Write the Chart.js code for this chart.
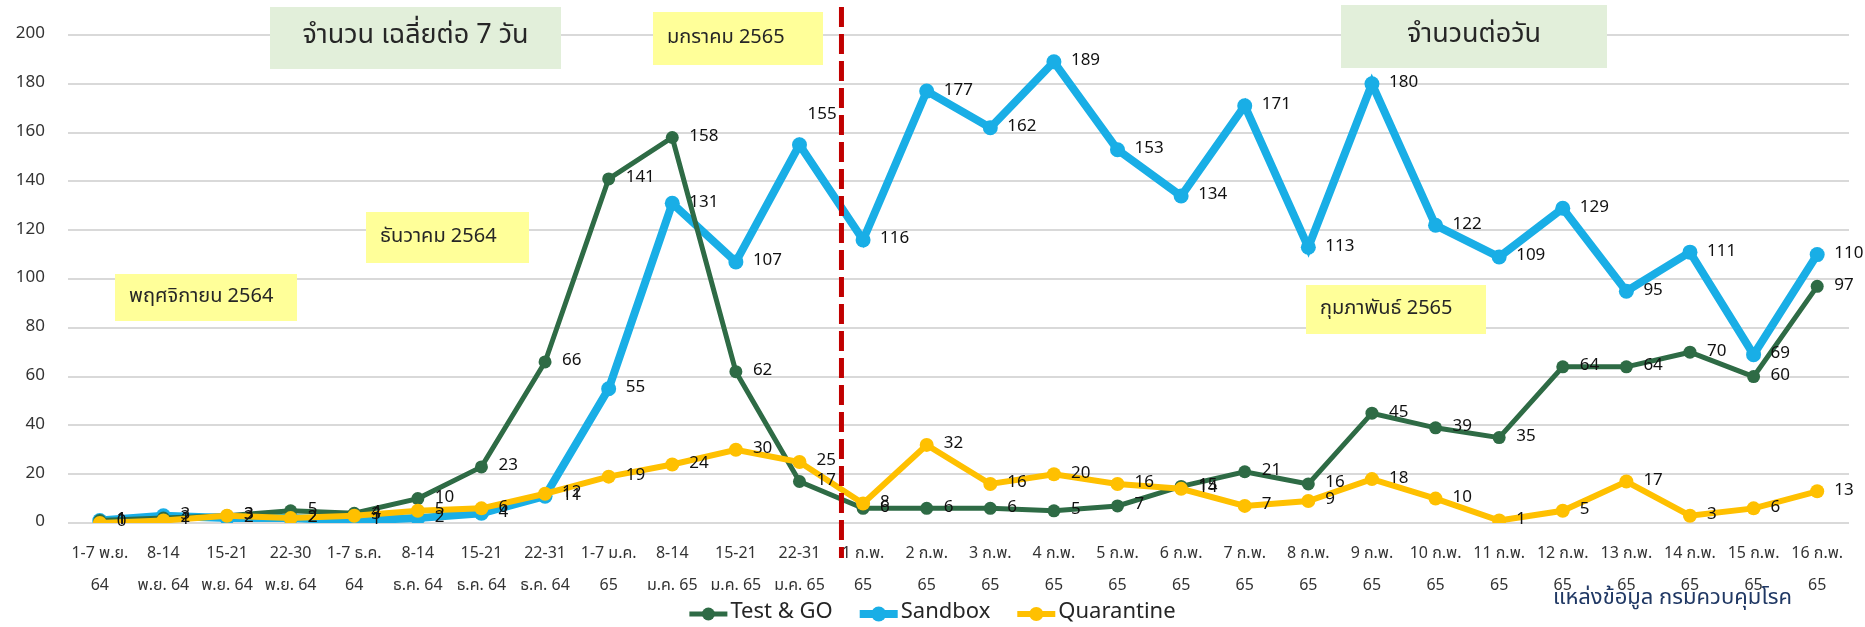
<!DOCTYPE html>
<html lang="th">
<head>
<meta charset="UTF-8">
<title>Test &amp; GO / Sandbox / Quarantine</title>
<script src="https://cdn.jsdelivr.net/npm/chart.js"></script>
<style>
  body { margin: 0; background: #fff; }
  canvas { display: block; }
</style>
</head>
<body>
<canvas id="travelChart" width="1865" height="627"></canvas>
<script>
const FONT = 'Tahoma, "Noto Sans Thai", "Noto Sans", sans-serif';

// x-axis categories (two lines each)
const categories = [
  ['1-7 พ.ย.', '64'], ['8-14', 'พ.ย. 64'], ['15-21', 'พ.ย. 64'], ['22-30', 'พ.ย. 64'],
  ['1-7 ธ.ค.', '64'], ['8-14', 'ธ.ค. 64'], ['15-21', 'ธ.ค. 64'], ['22-31', 'ธ.ค. 64'],
  ['1-7 ม.ค.', '65'], ['8-14', 'ม.ค. 65'], ['15-21', 'ม.ค. 65'], ['22-31', 'ม.ค. 65'],
  ['1 ก.พ.', '65'], ['2 ก.พ.', '65'], ['3 ก.พ.', '65'], ['4 ก.พ.', '65'],
  ['5 ก.พ.', '65'], ['6 ก.พ.', '65'], ['7 ก.พ.', '65'], ['8 ก.พ.', '65'],
  ['9 ก.พ.', '65'], ['10 ก.พ.', '65'], ['11 ก.พ.', '65'], ['12 ก.พ.', '65'],
  ['13 ก.พ.', '65'], ['14 ก.พ.', '65'], ['15 ก.พ.', '65'], ['16 ก.พ.', '65']
];

const testAndGo  = [1, 2, 3, 5, 4, 10, 23, 66, 141, 158, 62, 17, 6, 6, 6, 5, 7, 15, 21, 16, 45, 39, 35, 64, 64, 70, 60, 97];
const sandbox    = [1, 3, 2, 2, 1, 2, 4, 11, 55, 131, 107, 155, 116, 177, 162, 189, 153, 134, 171, 113, 180, 122, 109, 129, 95, 111, 69, 110];
const quarantine = [0, 1, 3, 2, 3, 5, 6, 12, 19, 24, 30, 25, 8, 32, 16, 20, 16, 14, 7, 9, 18, 10, 1, 5, 17, 3, 6, 13];

const yMin = 0, yMax = 200, yStep = 20;

// text boxes on the chart
const boxes = [
  { text: 'จำนวน เฉลี่ยต่อ 7 วัน', x: 270, y: 7, w: 291, h: 62, fill: '#e2efda', size: 27, align: 'center' },
  { text: 'จำนวนต่อวัน', x: 1341, y: 5, w: 266, h: 63, fill: '#e2efda', size: 27, align: 'center' },
  { text: 'มกราคม 2565', x: 653, y: 12, w: 170, h: 53, fill: '#ffff99', size: 20, align: 'left' },
  { text: 'ธันวาคม 2564', x: 366, y: 212, w: 163, h: 51, fill: '#ffff99', size: 20, align: 'left' },
  { text: 'พฤศจิกายน 2564', x: 115, y: 274, w: 182, h: 47, fill: '#ffff99', size: 20, align: 'left' },
  { text: 'กุมภาพันธ์ 2565', x: 1306, y: 285, w: 180, h: 49, fill: '#ffff99', size: 20, align: 'left' }
];

// label placement exceptions: dataset index -> point index -> offset
const labelShift = { 1: { 11: { dx: 8, dy: -29 } } };

const decor = {
  id: 'decor',
  beforeDatasetsDraw(chart) {
    const ctx = chart.ctx;
    ctx.save();
    boxes.forEach(b => {
      ctx.fillStyle = b.fill;
      ctx.fillRect(b.x, b.y, b.w, b.h);
      ctx.fillStyle = '#262626';
      ctx.font = b.size + 'px ' + FONT;
      ctx.textBaseline = 'middle';
      ctx.textAlign = b.align;
      const tx = b.align === 'center' ? b.x + b.w / 2 : b.x + 14;
      ctx.fillText(b.text, tx, b.y + b.h / 2);
    });
    ctx.restore();
  },
  afterDatasetsDraw(chart) {
    const ctx = chart.ctx;
    const xs = chart.scales.x;
    ctx.save();

    // red dashed divider between January and February
    const p11 = xs.getPixelForValue(11), p12 = xs.getPixelForValue(12);
    const px = p11 + (p12 - p11) * 0.66;
    ctx.strokeStyle = '#c00000';
    ctx.lineWidth = 5;
    ctx.setLineDash([20, 7]);
    ctx.beginPath();
    ctx.moveTo(px, 7);
    ctx.lineTo(px, 558);
    ctx.stroke();
    ctx.setLineDash([]);

    // value labels
    ctx.font = '17px ' + FONT;
    ctx.fillStyle = '#111';
    ctx.textAlign = 'left';
    ctx.textBaseline = 'middle';
    chart.data.datasets.forEach((ds, i) => {
      chart.getDatasetMeta(i).data.forEach((pt, j) => {
        const o = (labelShift[i] && labelShift[i][j]) || { dx: 17, dy: 0 };
        ctx.fillText(String(ds.data[j]), pt.x + o.dx, pt.y + o.dy);
      });
    });

    // legend at the bottom
    ctx.font = '22px ' + FONT;
    const symW = 38, gapIn = 3, gapOut = 27, ly = 614;
    const items = chart.data.datasets.map(ds => ({ ds, tw: ctx.measureText(ds.label).width }));
    let total = 0;
    items.forEach((it, k) => { total += symW + gapIn + it.tw + (k < items.length - 1 ? gapOut : 0); });
    let lx = chart.width / 2 - total / 2;
    items.forEach(it => {
      ctx.strokeStyle = it.ds.borderColor;
      ctx.lineWidth = it.ds.borderWidth;
      ctx.beginPath();
      ctx.moveTo(lx, ly);
      ctx.lineTo(lx + symW, ly);
      ctx.stroke();
      ctx.fillStyle = it.ds.borderColor;
      ctx.beginPath();
      ctx.arc(lx + symW / 2, ly, it.ds.pointRadius, 0, Math.PI * 2);
      ctx.fill();
      ctx.fillStyle = '#262626';
      ctx.fillText(it.ds.label, lx + symW + gapIn, ly);
      lx += symW + gapIn + it.tw + gapOut;
    });

    // source note
    ctx.font = '22px ' + FONT;
    ctx.fillStyle = '#203864';
    ctx.textAlign = 'right';
    ctx.textBaseline = 'alphabetic';
    ctx.fillText('แหล่งข้อมูล กรมควบคุมโรค', 1792, 604);

    ctx.restore();
  }
};

const ctx = document.getElementById('travelChart').getContext('2d');
new Chart(ctx, {
  type: 'line',
  data: {
    labels: categories,
    datasets: [
      { label: 'Test & GO', data: testAndGo, borderColor: '#2e6b45', backgroundColor: '#2e6b45',
        borderWidth: 5, pointRadius: 6.5, pointBorderWidth: 0, pointBackgroundColor: '#2e6b45', order: 1 },
      { label: 'Sandbox', data: sandbox, borderColor: '#19aee6', backgroundColor: '#19aee6',
        borderWidth: 8, pointRadius: 7.5, pointBorderWidth: 0, pointBackgroundColor: '#19aee6', order: 2 },
      { label: 'Quarantine', data: quarantine, borderColor: '#ffc000', backgroundColor: '#ffc000',
        borderWidth: 6, pointRadius: 7, pointBorderWidth: 0, pointBackgroundColor: '#ffc000', order: 0 }
    ]
  },
  options: {
    responsive: false,
    animation: false,
    devicePixelRatio: 1,
    layout: { padding: { top: 35, right: 16, bottom: 0, left: 0 } },
    plugins: { legend: { display: false }, tooltip: { enabled: false } },
    scales: {
      x: {
        offset: true,
        grid: { display: false, offset: true },
        border: { display: false },
        ticks: {
          autoSkip: false, maxRotation: 0, minRotation: 0, padding: 8,
          color: '#333', font: { family: FONT, size: 16, lineHeight: 2 }
        },
        afterFit(scale) { scale.height = 104; }
      },
      y: {
        min: yMin, max: yMax,
        grid: { color: '#d9d9d9', lineWidth: 2, drawTicks: false },
        border: { display: false },
        ticks: { stepSize: yStep, padding: 23, color: '#333', font: { family: FONT, size: 17 } },
        afterFit(scale) { scale.width = 68; }
      }
    }
  },
  plugins: [decor]
});
</script>
</body>
</html>
